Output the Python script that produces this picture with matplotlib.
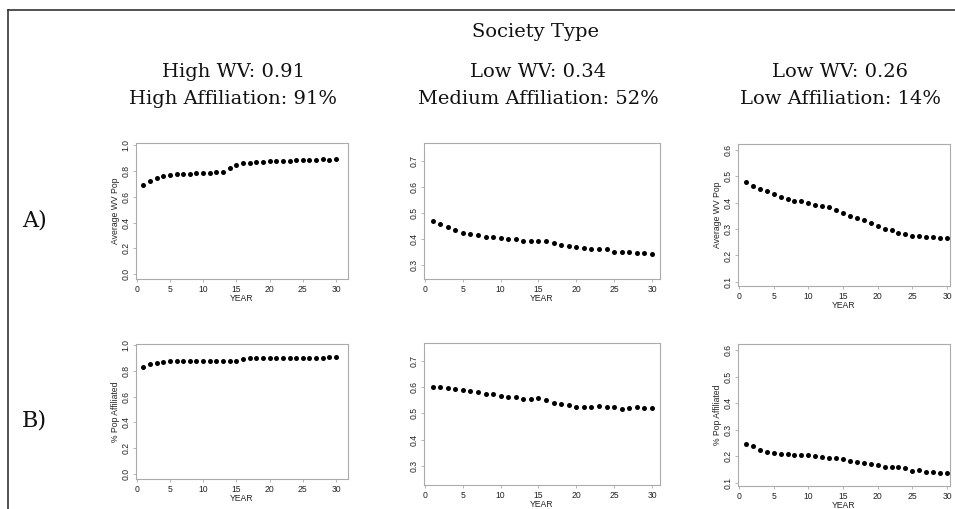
import matplotlib
matplotlib.use("Agg")
import matplotlib.pyplot as plt
from matplotlib.lines import Line2D

years = list(range(1, 31))

# Average WV of the population, one series per society type
wv_high = [0.690, 0.721, 0.747, 0.762, 0.773, 0.775, 0.778, 0.780, 0.786, 0.786,
           0.788, 0.791, 0.791, 0.824, 0.848, 0.860, 0.866, 0.868, 0.871, 0.876,
           0.876, 0.879, 0.881, 0.889, 0.889, 0.889, 0.889, 0.894, 0.889, 0.894]
wv_medium = [0.469, 0.457, 0.447, 0.434, 0.424, 0.418, 0.414, 0.407, 0.407, 0.405,
             0.400, 0.400, 0.393, 0.392, 0.391, 0.390, 0.383, 0.375, 0.372, 0.370,
             0.364, 0.361, 0.363, 0.360, 0.349, 0.350, 0.349, 0.346, 0.345, 0.342]
wv_low = [0.480, 0.465, 0.454, 0.444, 0.432, 0.423, 0.414, 0.408, 0.405, 0.400,
          0.392, 0.389, 0.384, 0.372, 0.362, 0.351, 0.342, 0.333, 0.322, 0.310,
          0.300, 0.296, 0.286, 0.282, 0.275, 0.273, 0.270, 0.271, 0.267, 0.268]

# Share of the population affiliated
aff_high = [0.827, 0.850, 0.863, 0.868, 0.873, 0.876, 0.876, 0.879, 0.879, 0.879,
            0.879, 0.876, 0.879, 0.879, 0.879, 0.889, 0.897, 0.897, 0.897, 0.897,
            0.897, 0.897, 0.897, 0.897, 0.897, 0.897, 0.899, 0.902, 0.904, 0.910]
aff_medium = [0.601, 0.601, 0.595, 0.594, 0.587, 0.584, 0.580, 0.575, 0.572, 0.565,
              0.561, 0.561, 0.556, 0.554, 0.557, 0.549, 0.541, 0.535, 0.533, 0.525,
              0.523, 0.524, 0.527, 0.525, 0.524, 0.518, 0.519, 0.523, 0.522, 0.522]
aff_low = [0.246, 0.239, 0.225, 0.216, 0.213, 0.210, 0.209, 0.206, 0.205, 0.204,
           0.200, 0.197, 0.192, 0.192, 0.191, 0.181, 0.178, 0.176, 0.171, 0.166,
           0.161, 0.161, 0.161, 0.154, 0.146, 0.147, 0.142, 0.142, 0.137, 0.137]

column_titles = ["High WV: 0.91\nHigh Affiliation: 91%",
                 "Low WV: 0.34\nMedium Affiliation: 52%",
                 "Low WV: 0.26\nLow Affiliation: 14%"]
row_labels = ["A)", "B)"]

W, H = 955, 509
fig = plt.figure(figsize=(W / 100, H / 100), dpi=100)


def box(x0, x1, y0, y1):
    # pixel box -> figure fraction rect
    return [x0 / W, 1 - y1 / H, (x1 - x0) / W, (y1 - y0) / H]


panels = [
    # series, ylabel, box, xlim, ylim, yticks
    (wv_high, "Average WV Pop", box(136, 348, 143, 279), (-0.1, 31.8), (-0.039, 1.018), [0, .2, .4, .6, .8, 1.0]),
    (wv_medium, None, box(424, 660, 143, 279), (-0.13, 31.06), (0.246, 0.768), [.3, .4, .5, .6, .7]),
    (wv_low, "Average WV Pop", box(738, 950, 144, 286), (-0.14, 30.43), (0.084, 0.623), [.1, .2, .3, .4, .5, .6]),
    (aff_high, "% Pop Affiliated", box(136, 348, 344, 479), (-0.1, 31.8), (-0.039, 1.008), [0, .2, .4, .6, .8, 1.0]),
    (aff_medium, None, box(424, 660, 343, 485), (-0.13, 31.06), (0.228, 0.767), [.3, .4, .5, .6, .7]),
    (aff_low, "% Pop Affiliated", box(738, 950, 344, 486), (-0.14, 30.43), (0.088, 0.623), [.1, .2, .3, .4, .5, .6]),
]

tick_font = dict(family="Liberation Sans", size=6.2, color="#222222")
edge = "#ababab"

for serie, ylabel, rect, xlim, ylim, yticks in panels:
    ax = fig.add_axes(rect)
    ax.plot(years, serie, "o", color="black", markersize=3.6, markeredgewidth=0)
    ax.set_xlim(*xlim)
    ax.set_ylim(*ylim)
    ax.set_xticks(range(0, 31, 5))
    ax.set_yticks(yticks)
    ax.set_yticklabels([f"{t:.1f}" for t in yticks], rotation=90, va="center", fontdict=tick_font)
    ax.set_xticklabels([str(t) for t in range(0, 31, 5)], fontdict=tick_font)
    ax.tick_params(length=2.5, width=0.6, color=edge, pad=1.5)
    for s in ax.spines.values():
        s.set_color(edge)
        s.set_linewidth(0.8)
    ax.set_xlabel("YEAR", fontdict=tick_font, labelpad=0.5)
    if ylabel:
        ax.set_ylabel(ylabel, fontdict=tick_font, labelpad=1.2)

serif = "DejaVu Serif"
fig.text(535 / W, 1 - 32 / H, "Society Type", family=serif, size=14, ha="center", va="center", color="#111111")
for cx, title in zip([233, 538, 840], column_titles):
    fig.text(cx / W, 1 - 85.5 / H, title, family=serif, size=14, ha="center", va="center",
             linespacing=1.6, color="#111111")
for cy, lab in zip([220, 420], row_labels):
    fig.text(22 / W, 1 - cy / H, lab, family=serif, size=16, ha="left", va="center", color="#111111")

# outer frame: top and left rules only
fig.add_artist(Line2D([8 / W, 1.0], [1 - 10 / H, 1 - 10 / H], color="#333333", linewidth=1.2))
fig.add_artist(Line2D([8 / W, 8 / W], [0.0, 1 - 10 / H], color="#333333", linewidth=1.2))

fig.savefig("out.png", dpi=100)
